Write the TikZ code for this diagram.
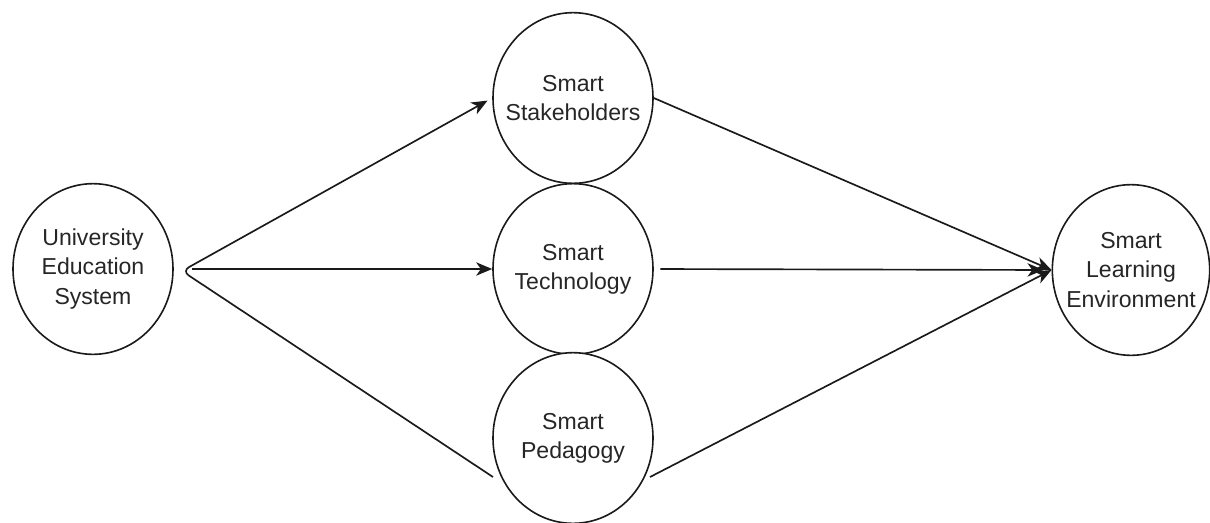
\documentclass[tikz,border=0pt]{standalone}
\usepackage{fontspec}
\setmainfont{Liberation Sans}
\usetikzlibrary{shapes.geometric,arrows.meta}
\definecolor{ink}{HTML}{1A1A1A}
\definecolor{txt}{HTML}{262626}
\begin{document}
\begin{tikzpicture}[x=0.75pt,y=-0.75pt,
  bubble/.style={ellipse,draw=ink,line width=1.2pt,fill=white,inner sep=0pt,
    minimum width=120pt,minimum height=128pt},
  caption/.style={align=center,text=txt,inner sep=0pt,
    font=\fontsize{17.3}{22}\selectfont},
  link/.style={draw=ink,line width=1.25pt},
  arrowlink/.style={link,-{Stealth[length=12pt,width=10pt,inset=3.5pt]}}]
\useasboundingbox (0,0) rectangle (1210,522);

% circles
\node[bubble] (ues) at (93,269) {};
\node[bubble] (stake) at (573,98) {};
\node[bubble] (tech) at (573,269) {};
\node[bubble] (ped) at (573,438) {};
\node[bubble,minimum width=118pt] (env) at (1131,270) {};

% their texts
\node[caption] (ues-t) at (ues) {University\\Education\\System};
\node[caption] (stake-t) at (stake) {Smart\\Stakeholders};
\node[caption] (tech-t) at (tech) {Smart\\Technology};
\node[caption] (ped-t) at (ped) {Smart\\Pedagogy};
\node[caption] (env-t) at (env) {Smart\\Learning\\Environment};

% connection points
\coordinate (src) at (182,271);
\coordinate (srcmid) at (192,269);
\coordinate (pedin) at (493,477);
\coordinate (pedout) at (650,477);

% from the education system
\draw[link,{Stealth[length=12pt,width=10pt,inset=3.5pt]}-,rounded corners=6pt,shorten <=4pt]
  (stake.west) -- (src) -- (pedin);
\draw[arrowlink] (srcmid) -- (tech.west);

% into the learning environment
\draw[arrowlink] (stake.east) -- (env.west);
\draw[arrowlink,shorten <=5pt,shorten >=6pt] (tech.east) -- (env.west);
\draw[arrowlink] (pedout) -- (env.west);
\end{tikzpicture}
\end{document}
